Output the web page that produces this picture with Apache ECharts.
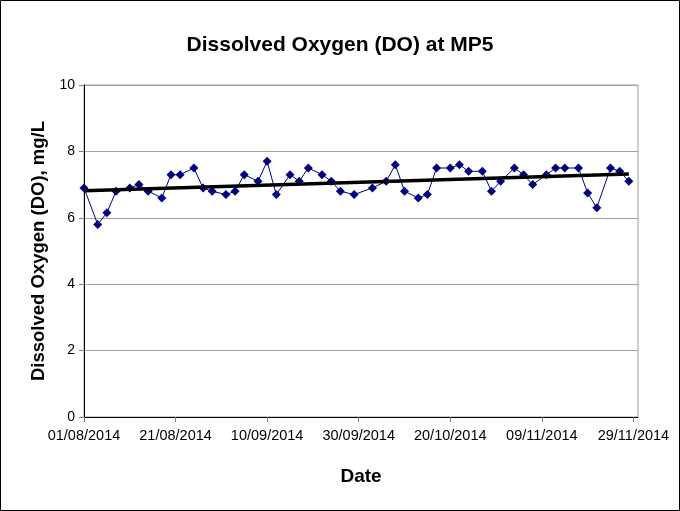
<!DOCTYPE html>
<html>
<head>
<meta charset="utf-8">
<script src="https://cdn.jsdelivr.net/npm/echarts@6/dist/echarts.min.js"></script>
<style>
html,body{margin:0;padding:0;background:#fff;}
#chart{width:680px;height:511px;}
</style>
</head>
<body>
<div id="chart"></div>
<script>
// Data
var dates = ['01/08/2014','04/08/2014','06/08/2014','08/08/2014','11/08/2014','13/08/2014','15/08/2014','18/08/2014','20/08/2014','22/08/2014','25/08/2014','27/08/2014','29/08/2014',
 '01/09/2014','03/09/2014','05/09/2014','08/09/2014','10/09/2014','12/09/2014','15/09/2014','17/09/2014','19/09/2014','22/09/2014','24/09/2014','26/09/2014','29/09/2014',
 '03/10/2014','06/10/2014','08/10/2014','10/10/2014','13/10/2014','15/10/2014','17/10/2014','20/10/2014','22/10/2014','24/10/2014','27/10/2014','29/10/2014','31/10/2014',
 '03/11/2014','05/11/2014','07/11/2014','10/11/2014','12/11/2014','14/11/2014','17/11/2014','19/11/2014','21/11/2014','24/11/2014','26/11/2014','28/11/2014'];
var doValues = [6.9,5.8,6.15,6.8,6.9,7.0,6.8,6.6,7.3,7.3,7.5,6.9,6.8,
 6.7,6.8,7.3,7.1,7.7,6.7,7.3,7.1,7.5,7.3,7.1,6.8,6.7,
 6.9,7.1,7.6,6.8,6.6,6.7,7.5,7.5,7.6,7.4,7.4,6.8,7.1,
 7.5,7.3,7.0,7.3,7.5,7.5,7.5,6.75,6.3,7.5,7.4,7.1];
var startDate = '01/08/2014';
var endDate = '30/11/2014';
var xTickStepDays = 20;
var yTicks = [0,2,4,6,8,10];

function toUTC(s){var p=s.split('/');return Date.UTC(+p[2],+p[1]-1,+p[0]);}
var DAY = 86400000;
var base = toUTC(startDate);
function dayOffset(s){return Math.round((toUTC(s)-base)/DAY);}
function fmt(off){
  var d = new Date(base + off*DAY);
  var dd = ('0'+d.getUTCDate()).slice(-2), mm=('0'+(d.getUTCMonth()+1)).slice(-2);
  return dd+'/'+mm+'/'+d.getUTCFullYear();
}
var xs = dates.map(dayOffset);
var pts = xs.map(function(x,i){return [x, doValues[i]];});

// linear trendline (least squares) from data
var n = xs.length, sx=0, sy=0, sxx=0, sxy=0;
for (var i=0;i<n;i++){sx+=xs[i];sy+=doValues[i];sxx+=xs[i]*xs[i];sxy+=xs[i]*doValues[i];}
var slope=(n*sxy-sx*sy)/(n*sxx-sx*sx), icpt=(sy-slope*sx)/n;
var trend=[[xs[0], icpt+slope*xs[0]],[xs[n-1], icpt+slope*xs[n-1]]];

var chart = echarts.init(document.getElementById('chart'), null, {renderer:'canvas'});
var F = 'Liberation Sans, Arial, sans-serif';
chart.setOption({
  animation:false,
  backgroundColor:'#fff',
  title:{text:'Dissolved Oxygen (DO) at MP5', left:'center', top:30,
    textStyle:{fontFamily:F, fontSize:21, fontWeight:'bold', color:'#000'}},
  grid:{left:84, right:42, top:85, bottom:94, show:true, borderColor:'#a0a0a0', borderWidth:1, containLabel:false},
  xAxis:{type:'value', min:0, max:dayOffset(endDate), interval:xTickStepDays,
    name:'Date', nameLocation:'middle', nameGap:50,
    nameTextStyle:{fontFamily:F, fontSize:19, fontWeight:'bold', color:'#000'},
    axisLine:{show:true, onZero:false, lineStyle:{color:'#000', width:1}},
    axisTick:{show:true, length:5, inside:false, lineStyle:{color:'#808080'}},
    axisLabel:{fontFamily:F, fontSize:14.5, color:'#000', margin:11,
      formatter:function(v){return fmt(v);}, showMaxLabel:false},
    splitLine:{show:false}},
  yAxis:{type:'value', min:yTicks[0], max:yTicks[yTicks.length-1], interval:yTicks[1]-yTicks[0],
    name:'Dissolved Oxygen (DO), mg/L', nameLocation:'middle', nameGap:35, nameRotate:90,
    nameTextStyle:{fontFamily:F, fontSize:18.5, fontWeight:'bold', color:'#000'},
    axisLine:{show:true, lineStyle:{color:'#000', width:1}},
    axisTick:{show:true, length:5, lineStyle:{color:'#808080'}},
    axisLabel:{fontFamily:F, fontSize:14, color:'#000', margin:9},
    splitLine:{show:true, lineStyle:{color:'#a0a0a0', width:1}}},
  series:[
    {type:'line', data:pts, symbol:'diamond', symbolSize:9, showSymbol:true,
     lineStyle:{color:'#000080', width:1}, itemStyle:{color:'#000080'}, z:3},
    {type:'line', data:trend, symbol:'none', lineStyle:{color:'#000', width:3.5}, z:4}
  ],
  graphic:[{type:'rect', shape:{x:0.5,y:0.5,width:679,height:510}, style:{fill:null, stroke:'#000', lineWidth:1}, silent:true}]
});
</script>
</body>
</html>
